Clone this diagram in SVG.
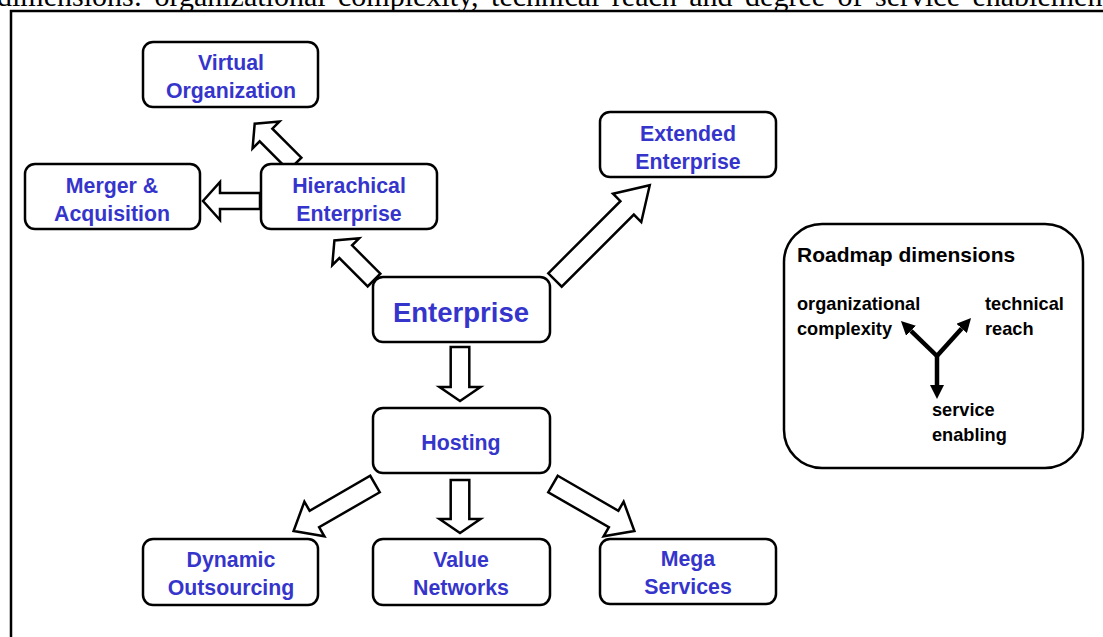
<svg xmlns="http://www.w3.org/2000/svg" width="1103" height="637" viewBox="0 0 1103 637">
<defs>
<style>
.box{fill:#fff;stroke:#000;stroke-width:2.5}
.lbl{font-family:"Liberation Sans",Arial,sans-serif;font-weight:bold;font-size:21.3px;fill:#3535CC;text-anchor:middle}
.big{font-size:27.5px}
.rm{font-family:"Liberation Sans",Arial,sans-serif;font-weight:bold;fill:#000}
.sm{font-size:18.2px}
.blk{fill:#fff;stroke:#000;stroke-width:2.5;stroke-linejoin:miter}
.ax{stroke:#000;stroke-width:4.5;fill:none}
.cap{font-family:"Liberation Serif","Times New Roman",serif;font-size:30px;fill:#000;word-spacing:5px}
</style>
<marker id="ah" viewBox="0 0 14 14" refX="0" refY="7" markerWidth="14" markerHeight="14" markerUnits="userSpaceOnUse" orient="auto">
<path d="M0,0 L14,7 L0,14 z" fill="#000"/>
</marker>
</defs>
<rect width="1103" height="637" fill="#fff"/>
<text class="cap" x="-3" y="6">dimensions: organizational complexity, technical reach and degree of service enablement</text>
<path d="M11,645 V11 H1110" fill="none" stroke="#000" stroke-width="2.5"/>

<g id="connectors">
<polygon class="blk" transform="translate(460,347) rotate(90)" points="0,-9.3 40,-9.3 40,-20.5 54,0 40,20.5 40,9.3 0,9.3"/>
<polygon class="blk" transform="translate(460,480) rotate(90)" points="0,-9.3 39,-9.3 39,-20.5 53,0 39,20.5 39,9.3 0,9.3"/>
<polygon class="blk" transform="translate(375,484) rotate(150)" points="0,-9.5 70,-9.5 70,-20 94,0 70,20 70,9.5 0,9.5"/>
<polygon class="blk" transform="translate(553,484) rotate(30)" points="0,-9.5 70,-9.5 70,-20 94,0 70,20 70,9.5 0,9.5"/>
<polygon class="blk" transform="translate(374,280) rotate(225)" points="0,-9 40,-9 40,-19 56,0 40,19 40,9 0,9"/>
<polygon class="blk" transform="translate(555,280) rotate(-45)" points="0,-9.5 102,-9.5 102,-20 134,0 102,20 102,9.5 0,9.5"/>
<polygon class="blk" transform="translate(295,164) rotate(225)" points="0,-9 41,-9 41,-19 57,0 41,19 41,9 0,9"/>
<polygon class="blk" transform="translate(260,201) rotate(180)" points="0,-8 40,-8 40,-19 57,0 40,19 40,8 0,8"/>
</g>

<g id="virtual">
<rect class="box" x="143" y="42" width="175" height="65" rx="10"/>
<text class="lbl" x="231" y="70">Virtual</text>
<text class="lbl" x="231" y="98">Organization</text>
</g>
<g id="merger">
<rect class="box" x="25" y="164" width="175" height="65" rx="10"/>
<text class="lbl" x="112" y="193">Merger &amp;</text>
<text class="lbl" x="112" y="221">Acquisition</text>
</g>
<g id="hierachical">
<rect class="box" x="261" y="164" width="176" height="65" rx="10"/>
<text class="lbl" x="349" y="193">Hierachical</text>
<text class="lbl" x="349" y="221">Enterprise</text>
</g>
<g id="extended">
<rect class="box" x="600" y="112" width="176" height="65" rx="10"/>
<text class="lbl" x="688" y="141">Extended</text>
<text class="lbl" x="688" y="169">Enterprise</text>
</g>
<g id="enterprise">
<rect class="box" x="373" y="277" width="177" height="65" rx="10"/>
<text class="lbl big" x="461" y="322">Enterprise</text>
</g>
<g id="hosting">
<rect class="box" x="373" y="408" width="177" height="65" rx="10"/>
<text class="lbl" x="461" y="450">Hosting</text>
</g>
<g id="dynamic">
<rect class="box" x="143" y="539" width="175" height="66" rx="10"/>
<text class="lbl" x="231" y="567">Dynamic</text>
<text class="lbl" x="231" y="595">Outsourcing</text>
</g>
<g id="value">
<rect class="box" x="373" y="539" width="177" height="66" rx="10"/>
<text class="lbl" x="461" y="567">Value</text>
<text class="lbl" x="461" y="595">Networks</text>
</g>
<g id="mega">
<rect class="box" x="600" y="539" width="176" height="65" rx="10"/>
<text class="lbl" x="688" y="566">Mega</text>
<text class="lbl" x="688" y="594">Services</text>
</g>

<g id="roadmap">
<rect class="box" x="784" y="224" width="299" height="244" rx="38"/>
<text class="rm" x="797" y="262" font-size="21px">Roadmap dimensions</text>
<text class="rm sm" x="797" y="310">organizational</text>
<text class="rm sm" x="797" y="335">complexity</text>
<text class="rm sm" x="985" y="310">technical</text>
<text class="rm sm" x="985" y="335">reach</text>
<text class="rm sm" x="932" y="416">service</text>
<text class="rm sm" x="932" y="441">enabling</text>
<line class="ax" x1="937" y1="356" x2="937" y2="385" marker-end="url(#ah)"/>
<line class="ax" x1="938" y1="357" x2="911" y2="330.8" marker-end="url(#ah)"/>
<line class="ax" x1="936" y1="357" x2="961.7" y2="328.4" marker-end="url(#ah)"/>
</g>
</svg>
